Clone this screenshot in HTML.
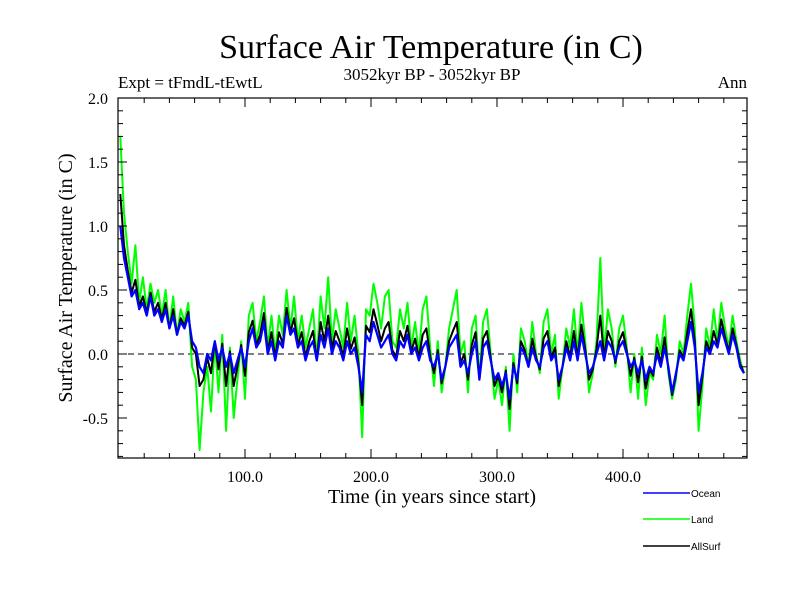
<!DOCTYPE html>
<html><head><meta charset="utf-8">
<style>
body{margin:0;background:#fff;}
svg{display:block;font-family:"Liberation Serif",serif;}
</style></head>
<body>
<svg id="chart" width="800" height="600" viewBox="0 0 800 600" xmlns="http://www.w3.org/2000/svg">
<rect width="800" height="600" fill="#fff"/>
<text x="431" y="58" font-size="34" text-anchor="middle">Surface Air Temperature (in C)</text>
<text x="118" y="88" font-size="17">Expt = tFmdL-tEwtL</text>
<text x="432" y="80" font-size="17" text-anchor="middle">3052kyr BP - 3052kyr BP</text>
<text x="747" y="88" font-size="17" text-anchor="end">Ann</text>
<text x="432" y="503" font-size="20" text-anchor="middle">Time (in years since start)</text>
<text transform="translate(72,278) rotate(-90)" font-size="20" text-anchor="middle">Surface Air Temperature (in C)</text>
<g id="plot"></g>
<g id="legend" font-family="Liberation Sans, sans-serif" font-size="10">
<g><line x1="643" y1="493" x2="690" y2="493" stroke="#0000ff" stroke-width="1.5"/><text x="691" y="497">Ocean</text></g>
<g><line x1="643" y1="519" x2="690" y2="519" stroke="#00ff00" stroke-width="1.5"/><text x="691" y="523">Land</text></g>
<g><line x1="643" y1="546" x2="690" y2="546" stroke="#000" stroke-width="1.5"/><text x="691" y="550">AllSurf</text></g>
</g>
</svg>
<script>
const years = [];
for (let i = 0; i < 166; i++) years.push(1 + i * 3);
const ocean = [1.0,0.75,0.6,0.45,0.5,0.35,0.4,0.3,0.45,0.3,0.35,
0.25,0.35,0.2,0.3,0.15,0.25,0.2,0.3,0.1,0.05,
-0.1,-0.15,0.0,-0.05,0.1,-0.05,0.05,-0.1,0.0,-0.15,
-0.05,0.05,-0.1,0.1,0.2,0.05,0.1,0.25,0.0,0.1,
-0.05,0.1,0.05,0.3,0.15,0.2,0.05,0.1,-0.05,0.05,
0.1,-0.05,0.15,0.05,0.2,0.0,0.1,0.05,-0.05,0.1,
0.0,0.05,-0.1,-0.3,0.15,0.1,0.25,0.15,0.05,0.1,
0.15,0.0,-0.05,0.1,0.05,0.15,0.0,0.05,-0.05,0.05,
0.1,-0.05,-0.1,0.0,-0.2,-0.1,0.05,0.1,0.15,-0.1,
-0.05,-0.15,0.0,0.1,-0.2,0.05,0.1,-0.05,-0.2,-0.15,
-0.25,-0.15,-0.35,-0.1,-0.2,0.05,0.0,-0.1,0.05,-0.05,
-0.1,0.05,0.1,-0.05,0.0,-0.2,-0.1,0.05,-0.05,0.1,
-0.05,0.15,0.0,-0.15,-0.1,0.0,0.1,-0.05,0.1,0.05,
-0.05,0.05,0.1,0.0,-0.1,-0.05,-0.15,-0.05,-0.2,-0.1,
-0.15,0.0,-0.1,0.05,-0.1,-0.3,-0.15,0.0,-0.05,0.1,
0.25,0.05,-0.3,-0.15,0.05,0.0,0.1,0.05,0.2,0.1,
0.0,0.15,0.05,-0.1,-0.15];
const land = [1.7,1.1,0.8,0.55,0.85,0.4,0.6,0.35,0.55,0.4,0.5,
0.3,0.5,0.2,0.45,0.15,0.35,0.25,0.4,-0.1,-0.2,
-0.75,-0.3,-0.1,-0.45,0.1,-0.3,0.15,-0.6,0.05,-0.5,
-0.2,0.1,-0.35,0.3,0.4,0.1,0.25,0.45,0.05,0.3,
0.0,0.3,0.15,0.5,0.2,0.45,0.1,0.3,0.05,0.2,
0.35,-0.05,0.45,0.2,0.6,0.1,0.35,0.2,0.05,0.4,
0.1,0.3,0.0,-0.65,0.35,0.3,0.55,0.4,0.2,0.45,
0.5,0.1,0.05,0.35,0.2,0.4,0.05,0.25,0.0,0.35,
0.45,0.05,-0.25,0.1,-0.3,-0.1,0.2,0.35,0.5,0.0,
0.1,-0.3,0.2,0.3,-0.2,0.25,0.35,0.0,-0.35,-0.2,
-0.4,-0.1,-0.6,0.0,-0.3,0.2,0.1,-0.1,0.25,0.0,
-0.15,0.25,0.35,0.0,0.15,-0.35,-0.1,0.2,0.05,0.35,
0.0,0.4,0.1,-0.3,-0.15,0.1,0.75,0.0,0.35,0.2,
-0.1,0.2,0.3,0.05,-0.3,0.0,-0.35,0.05,-0.4,-0.15,
-0.2,0.15,0.0,0.3,-0.15,-0.35,-0.2,0.1,0.0,0.3,
0.55,0.2,-0.6,-0.25,0.2,0.05,0.35,0.1,0.4,0.2,
0.05,0.3,0.1,-0.05,-0.15];
const allsurf = [1.25,0.85,0.65,0.48,0.58,0.37,0.45,0.32,0.48,0.33,0.4,
0.27,0.4,0.2,0.35,0.15,0.28,0.22,0.33,0.05,0.0,
-0.25,-0.2,-0.03,-0.15,0.1,-0.12,0.08,-0.25,0.02,-0.25,
-0.1,0.07,-0.17,0.17,0.26,0.07,0.15,0.32,0.02,0.17,
-0.03,0.17,0.08,0.36,0.17,0.28,0.07,0.17,-0.02,0.1,
0.18,-0.05,0.25,0.1,0.3,0.04,0.18,0.1,-0.02,0.2,
0.04,0.13,-0.07,-0.4,0.22,0.17,0.35,0.23,0.1,0.2,
0.25,0.03,-0.02,0.18,0.1,0.22,0.02,0.12,-0.03,0.15,
0.2,-0.02,-0.15,0.03,-0.23,-0.1,0.1,0.18,0.25,-0.07,
0.0,-0.2,0.07,0.17,-0.2,0.12,0.18,-0.03,-0.25,-0.17,
-0.3,-0.13,-0.43,-0.07,-0.23,0.1,0.03,-0.1,0.12,-0.03,
-0.12,0.12,0.18,-0.03,0.05,-0.25,-0.1,0.1,-0.02,0.18,
-0.03,0.23,0.04,-0.2,-0.12,0.04,0.3,-0.03,0.18,0.1,
-0.07,0.1,0.17,0.02,-0.17,-0.03,-0.22,-0.02,-0.27,-0.12,
-0.17,0.05,-0.07,0.13,-0.12,-0.32,-0.17,0.03,-0.03,0.17,
0.35,0.1,-0.4,-0.18,0.1,0.02,0.18,0.07,0.27,0.13,
0.02,0.2,0.07,-0.08,-0.15];
const xTickValues = [100,200,300,400];
const xTickLabels = ["100.0","200.0","300.0","400.0"];
const yTickValues = [-0.5,0.0,0.5,1.0,1.5,2.0];
const yTickLabels = ["-0.5","0.0","0.5","1.0","1.5","2.0"];

const L=118,R=747,T=98,B=458;
const xS = v => 119 + v*1.26;
const yS = v => 354 - v*128;
const NS="http://www.w3.org/2000/svg";
const plot=document.getElementById('plot');
function mk(tag, attrs){const e=document.createElementNS(NS,tag);for(const k in attrs)e.setAttribute(k,attrs[k]);plot.appendChild(e);return e;}

const zero = mk('line',{x1:L,x2:R,y1:yS(0),y2:yS(0),stroke:'#000','stroke-dasharray':'6,4','stroke-width':1});



function series(vals, color, name, w){
  const d = vals.map((v,i)=>(i?'L':'M')+xS(years[i]).toFixed(1)+','+yS(v).toFixed(1)).join(' ');
  const p = mk('path',{d:d,fill:'none',stroke:color,'stroke-width':w,'stroke-linejoin':'round'});
  
  
}
series(land,'#00ff00','land-series',2);
series(allsurf,'#000000','allsurf-series',2);
series(ocean,'#0000ff','ocean-series',2.2);

const frame = mk('rect',{x:L,y:T,width:R-L,height:B-T,fill:'none',stroke:'#000','stroke-width':1.2});



for(let v=20; v<=490; v+=20){
  const major = v%100===0;
  const len = major?9:5;
  const x=xS(v);
  const t1=mk('line',{x1:x,x2:x,y1:B,y2:B-len,stroke:'#000'});
  
  
  const t2=mk('line',{x1:x,x2:x,y1:T,y2:T+len,stroke:'#000'});
  
  
}
xTickValues.forEach((v,i)=>{
  const t=mk('text',{x:xS(v),y:482,'font-size':16,'text-anchor':'middle'});
  t.textContent=xTickLabels[i];
  
  
});
for(let k=-8;k<=20;k++){
  const v=k/10; const y=yS(v);
  if(y<T-0.5||y>B+0.5) continue;
  const major = k%5===0;
  const len = major?9:5;
  const t1=mk('line',{x1:L,x2:L+len,y1:y,y2:y,stroke:'#000'});
  
  
  const t2=mk('line',{x1:R,x2:R-len,y1:y,y2:y,stroke:'#000'});
  
  
}
yTickValues.forEach((v,i)=>{
  const t=mk('text',{x:108,y:yS(v)+6,'font-size':16,'text-anchor':'end'});
  t.textContent=yTickLabels[i];
  
  
});
</script>
</body></html>
